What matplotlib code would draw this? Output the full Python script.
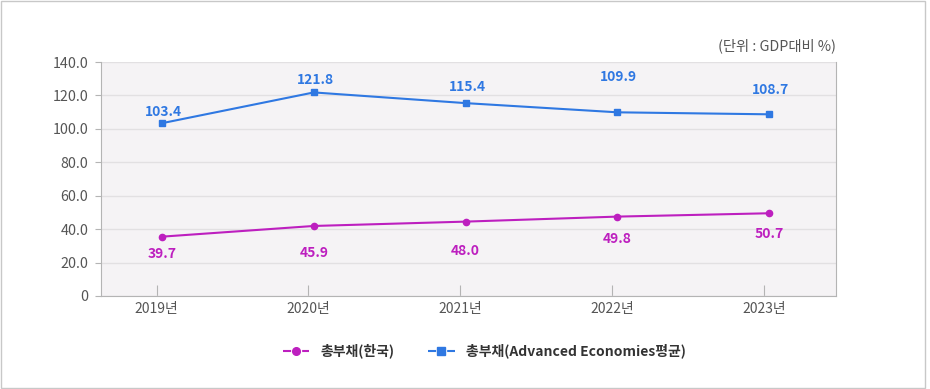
import matplotlib.pyplot as plt
from matplotlib.patches import Rectangle
from matplotlib.lines import Line2D

plt.rcParams['font.family'] = ['Noto Sans CJK KR', 'DejaVu Sans']

years = ['2019년', '2020년', '2021년', '2022년', '2023년']
korea_pos = [35.5, 41.9, 44.5, 47.5, 49.5]   # where the dots sit in the picture
korea_labels = ['39.7', '45.9', '48.0', '49.8', '50.7']
adv = [103.4, 121.8, 115.4, 109.9, 108.7]
adv_labels = ['103.4', '121.8', '115.4', '109.9', '108.7']
yticks = [0, 20, 40, 60, 80, 100, 120, 140]
ytick_labels = ['0', '20.0', '40.0', '60.0', '80.0', '100.0', '120.0', '140.0']

red = '#bd1fbf'
blue = '#2f78e2'

fig = plt.figure(figsize=(9.3, 3.89), dpi=100)
fig.patches.append(Rectangle((0.001, 0.002), 0.994, 0.995, transform=fig.transFigure,
                             fill=False, edgecolor='#c8c8c8', linewidth=1))

ax = fig.add_axes([0.1086, 0.2391, 0.7903, 0.6015])
ax.set_facecolor('#f5f3f5')
x = list(range(len(years)))

ax.plot(x, korea_pos, color=red, lw=1.5, marker='o', ms=4.5, zorder=3)
ax.plot(x, adv, color=blue, lw=1.5, marker='s', ms=5, zorder=3)

# label offsets in px (they are not uniform)
adv_off = [11, 12, 16, 35, 24]
kor_off = [17, 27, 29, 22, 21]
for i in x:
    ax.annotate(adv_labels[i], (i, adv[i]), xytext=(1, adv_off[i] * 0.72), textcoords='offset points',
                ha='center', va='center', color=blue, fontsize=10, fontweight='bold')
    ax.annotate(korea_labels[i], (i, korea_pos[i]), xytext=(0, -kor_off[i] * 0.72), textcoords='offset points',
                ha='center', va='center', color=red, fontsize=10, fontweight='bold')

ax.set_xlim(-0.402, 4.44)
ax.set_ylim(0, 140)
ax.set_yticks(yticks)
ax.set_yticklabels(ytick_labels)
ax.set_xticks([i - 0.035 for i in x])
ax.set_xticklabels(years)
ax.grid(axis='y', color='#e2e0e2', lw=1)
ax.set_axisbelow(True)

for s in ['left', 'bottom', 'right']:
    ax.spines[s].set_color('#b4b4b4')
ax.spines['top'].set_visible(False)
ax.tick_params(axis='y', direction='out', length=4, color='#b4b4b4', labelcolor='#555555', labelsize=10.3, pad=5)
ax.tick_params(axis='x', direction='in', length=8, color='#b4b4b4', labelcolor='#555555', labelsize=10, pad=4)

fig.text(0.8989, 0.882, '(단위 : GDP대비 %)', ha='right', va='center', color='#555555', fontsize=10.3)

handles = [Line2D([], [], color=red, lw=1.5, marker='o', ms=5.5, dashes=(3.9, 5.3)),
           Line2D([], [], color=blue, lw=1.5, marker='s', ms=5.5, dashes=(3.9, 5.3))]
fig.legend(handles, ['총부채(한국)', '총부채(Advanced Economies평균)'], loc='center',
           bbox_to_anchor=(0.521, 0.097), ncol=2, frameon=False, handlelength=1.9,
           columnspacing=2.4, handletextpad=0.85, labelcolor='#333333',
           prop={'weight': 'bold', 'size': 10})

fig.savefig('out.png', dpi=100)
